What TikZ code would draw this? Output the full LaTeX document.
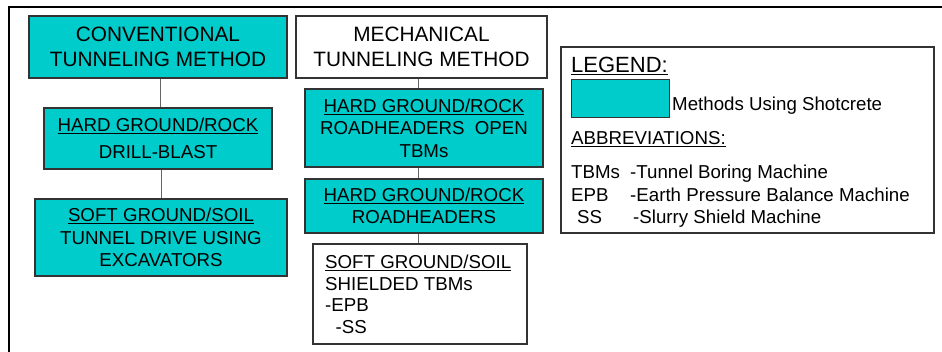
\documentclass[tikz,border=0pt]{standalone}
\usepackage{fontspec}
\setmainfont{Liberation Sans}
\definecolor{teal1}{HTML}{00CCCC}
\definecolor{edge}{HTML}{333333}
\definecolor{link}{HTML}{666666}
\begin{document}
\begin{tikzpicture}[x=1pt,y=-1pt,
  box/.style={draw=edge,line width=1.2pt,rectangle,inner sep=0pt,align=center,
    font=\fontsize{18.7}{22.5}\selectfont},
  tealbox/.style={box,fill=teal1},
  whitebox/.style={box,fill=white},
  bigfont/.style={font=\fontsize{20.8}{25}\selectfont},
  txt/.style={inner sep=0pt,anchor=base west,font=\fontsize{18.7}{22}\selectfont},
  conn/.style={draw=link,line width=1pt}]
\useasboundingbox (0,0) rectangle (942,352);
\fill[white] (0,0) rectangle (942,352);
\coordinate (fa) at (9,352);
\coordinate (fb) at (9,7);
\coordinate (fc) at (942,7);
\draw[line width=1.3pt] (fa) -- (fb) -- (fc);
% conventional column
\node[tealbox,bigfont,minimum width=258pt,minimum height=62pt] (c1) at (158,47)
  {CONVENTIONAL\\TUNNELING METHOD};
\node[tealbox,minimum width=228pt,minimum height=61pt] (c2) at (158,138.5)
  {\underline{HARD GROUND/ROCK}\\[5pt]DRILL-BLAST};
\node[tealbox,minimum width=252pt,minimum height=77pt] (c3) at (161,237.5)
  {\underline{SOFT GROUND/SOIL}\\TUNNEL DRIVE USING\\EXCAVATORS};
\draw[conn] (c1.south -| 160,0) -- (c2.north -| 160,0);
\draw[conn] (c2.south -| 161,0) -- (c3.north -| 161,0);
% mechanical column
\node[whitebox,bigfont,minimum width=251pt,minimum height=62pt] (m1) at (421.5,47)
  {MECHANICAL\\TUNNELING METHOD};
\node[tealbox,minimum width=238pt,minimum height=78pt] (m2) at (424,128)
  {\underline{HARD GROUND/ROCK}\\ROADHEADERS\ \ OPEN\\TBMs};
\node[tealbox,minimum width=238pt,minimum height=54pt] (m3) at (424,206)
  {\underline{HARD GROUND/ROCK}\\ROADHEADERS};
\node[whitebox,minimum width=214pt,minimum height=100pt] (m4) at (420,294) {};
\node[txt,anchor=north west,align=left,font=\fontsize{18.7}{21.5}\selectfont] (m4t) at (325,255)
  {\underline{SOFT GROUND/SOIL}\\SHIELDED TBMs\\-EPB\\\ \ -SS};
\draw[conn] (m1.south -| 418,0) -- (m2.north -| 418,0);
\draw[conn] (m2.south -| 418,0) -- (m3.north -| 418,0);
\draw[conn] (m3.south -| 418,0) -- (m4.north -| 418,0);
% legend
\node[whitebox,minimum width=373pt,minimum height=186pt] (leg) at (747.5,140) {};
\node[txt,font=\fontsize{22}{26}\selectfont] (lt) at (571,73) {\underline{LEGEND:}};
\node[draw=edge,line width=1pt,fill=teal1,minimum width=98pt,minimum height=38pt,inner sep=0pt] (sw) at (620,99) {};
\node[txt] (lm) at (672,111) {Methods Using Shotcrete};
\node[txt] (la) at (571,145) {\underline{ABBREVIATIONS:}};
\node[txt] (a1) at (571,179) {TBMs};
\node[txt] (b1) at (630,179) {-Tunnel Boring Machine};
\node[txt] (a2) at (571,202) {EPB};
\node[txt] (b2) at (630,202) {-Earth Pressure Balance Machine};
\node[txt] (a3) at (577,224) {SS};
\node[txt] (b3) at (633,224) {-Slurry Shield Machine};
\end{tikzpicture}
\end{document}
